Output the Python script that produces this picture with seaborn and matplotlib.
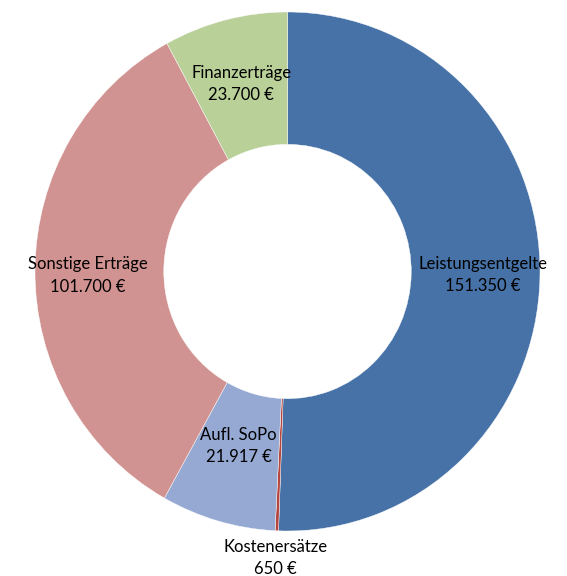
import matplotlib
matplotlib.use('Agg')
import numpy as np
import matplotlib.pyplot as plt
import seaborn as sns

# Ertraege (donut), clockwise from the top
categories = ['Leistungsentgelte', 'Kostenersätze', 'Aufl. SoPo', 'Sonstige Erträge', 'Finanzerträge']
values = [151350, 650, 21917, 101700, 23700]
value_labels = ['151.350 €', '650 €', '21.917 €', '101.700 €', '23.700 €']
colors = ['#4672A7', '#B5463F', '#95A9D3', '#D19391', '#B9D099']

sns.set_style('white')
plt.rcParams['font.family'] = ['Lato', 'DejaVu Sans']

fig = plt.figure(figsize=(5.67, 5.76), dpi=100)
ax = fig.add_axes([35 / 567, 1 - 531 / 576, 505 / 567, 519 / 576])

wedges, _ = ax.pie(values, colors=colors, startangle=90, counterclock=False,
                   radius=1, wedgeprops=dict(width=0.51, edgecolor='white', linewidth=0.3))
ax.set_aspect('auto')
ax.set_xlim(-1, 1)
ax.set_ylim(-1, 1)
ax.axis('off')

# label distance per wedge (small wedge gets its label outside)
label_r = [0.775, 1.105, 0.70, 0.79, 0.745]
for w, name, val, r in zip(wedges, categories, value_labels, label_r):
    ang = np.deg2rad((w.theta1 + w.theta2) / 2)
    ax.text(r * np.cos(ang), r * np.sin(ang) - (0.02 if name == 'Sonstige Erträge' else 0),
            name + '\n' + val, color='black',
            ha='center', va='center', fontsize=12, linespacing=1.5,
            clip_on=False)

fig.savefig('out.png', dpi=100)
